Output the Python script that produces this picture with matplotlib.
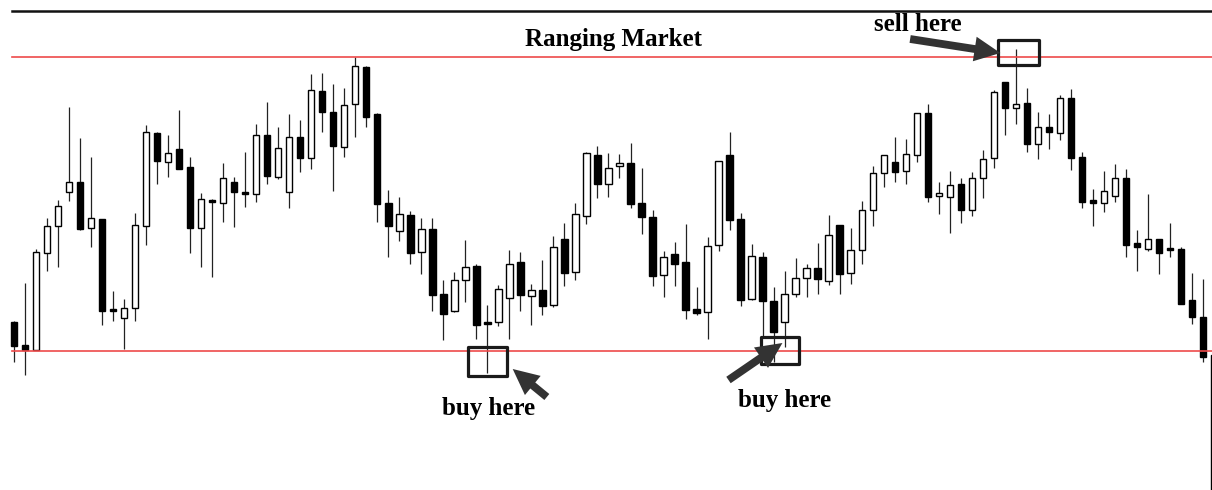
import matplotlib
matplotlib.use("Agg")
import matplotlib.pyplot as plt
from matplotlib.patches import Rectangle, FancyArrowPatch

# --- candle data (price in points) ---
opens = [178, 155, 150, 247, 274, 308, 318, 272, 281, 191,
         182, 192, 274, 367, 338, 351, 333, 272, 300, 297,
         318, 307, 306, 365, 323, 308, 363, 342, 409, 388,
         353, 396, 433, 386, 297, 269, 285, 248, 271, 206,
         189, 220, 234, 178, 178, 202, 238, 204, 210, 195,
         261, 228, 284, 345, 316, 334, 337, 297, 283, 225,
         246, 238, 191, 188, 255, 345, 281, 201, 243, 199,
         178, 206, 222, 232, 219, 275, 227, 250, 290, 327,
         338, 329, 345, 387, 304, 303, 316, 290, 322, 342,
         418, 392, 397, 356, 373, 367, 402, 343, 300, 297,
         304, 322, 257, 251, 261, 252, 251, 200, 183, 145]
highs = [179, 217, 251, 282, 300, 393, 362, 343, 281, 209,
         201, 287, 375, 368, 365, 390, 343, 307, 301, 337,
         323, 348, 376, 398, 373, 386, 380, 426, 427, 416,
         412, 443, 434, 387, 310, 303, 289, 282, 282, 220,
         228, 260, 236, 195, 215, 250, 248, 216, 240, 264,
         277, 297, 348, 354, 347, 346, 357, 332, 290, 249,
         258, 276, 213, 263, 339, 368, 287, 256, 248, 213,
         229, 242, 236, 257, 285, 275, 272, 299, 334, 345,
         363, 361, 387, 396, 318, 329, 322, 328, 350, 410,
         418, 451, 412, 388, 386, 405, 411, 348, 311, 329,
         336, 331, 270, 306, 261, 277, 253, 227, 221, 145]
lows = [138, 125, 150, 229, 233, 299, 270, 253, 175, 179,
        151, 179, 255, 316, 323, 331, 247, 233, 223, 278,
        273, 293, 298, 316, 321, 292, 328, 331, 368, 309,
        343, 363, 373, 278, 243, 259, 236, 226, 189, 160,
        188, 198, 161, 127, 174, 161, 189, 175, 185, 193,
        214, 220, 276, 302, 303, 322, 292, 266, 214, 203,
        214, 181, 185, 161, 249, 270, 194, 200, 164, 138,
        153, 203, 203, 206, 215, 206, 216, 236, 274, 313,
        318, 316, 338, 298, 286, 267, 277, 284, 302, 332,
        365, 376, 348, 341, 351, 360, 330, 292, 274, 288,
        298, 243, 229, 249, 226, 243, 196, 176, 138, 0]
closes = [154, 150, 248, 274, 294, 318, 271, 282, 189, 189,
          192, 275, 368, 339, 347, 331, 272, 301, 298, 322,
          308, 306, 365, 324, 352, 363, 342, 410, 388, 354,
          395, 434, 383, 296, 274, 286, 247, 271, 205, 186,
          220, 233, 175, 176, 211, 236, 205, 210, 194, 253,
          227, 286, 347, 316, 332, 337, 296, 283, 224, 243,
          236, 190, 187, 254, 339, 280, 200, 244, 199, 168,
          206, 222, 232, 221, 265, 226, 250, 290, 327, 345,
          328, 346, 387, 303, 307, 315, 290, 322, 341, 408,
          392, 396, 356, 373, 368, 402, 342, 298, 297, 309,
          322, 255, 253, 261, 247, 250, 196, 183, 143, 0]

support = 149
resistance = 443

fig = plt.figure(figsize=(12.12, 4.9), dpi=100)
ax = fig.add_axes([0, 0, 1, 1])
ax.set_xlim(-1.272, 108.82)
ax.set_ylim(10, 500)
ax.axis("off")

# --- candles ---
for i in range(len(opens)):
    o, h, l, c = opens[i], highs[i], lows[i], closes[i]
    ax.vlines(i, l, h, color="#222222", lw=0.9, zorder=2)
    bottom = min(o, c)
    height = max(abs(c - o), 1.5)
    face = "white" if c > o else "black"
    ax.bar(i, height, bottom=bottom, width=0.58, color=face,
           edgecolor="black", linewidth=1.0, zorder=3)

# --- range lines ---
ax.axhline(resistance, xmin=12 / 1212, color="#ee4a4a", lw=1.2, zorder=4)
ax.axhline(support, xmin=12 / 1212, color="#ee4a4a", lw=1.2, zorder=4)
ax.axhline(489, xmin=12 / 1212, color="#111111", lw=1.8, zorder=4)

serif = ["Liberation Serif", "DejaVu Serif"]
ax.text(54.5, 460, "Ranging Market", ha="center", va="center",
        fontsize=18, fontweight="bold", family=serif)

# --- boxes around entry points ---
def box(xc, half_w, y0, y1):
    ax.add_patch(Rectangle((xc - half_w, y0), 2 * half_w, y1 - y0, fill=False,
                           edgecolor="#1a1a1a", lw=2.3, joinstyle="round", zorder=5))

box(43.0, 1.8, 124, 153)
box(69.6, 1.75, 136, 163)
box(91.25, 1.85, 435, 460)

# --- arrows ---
def arrow(tail, tip):
    ax.add_patch(FancyArrowPatch(tail, tip,
                                 arrowstyle="simple,head_length=1.1,head_width=1.05,tail_width=0.33",
                                 mutation_scale=17, color="#333333", lw=0,
                                 shrinkA=0, shrinkB=0, zorder=6))

arrow((48.4, 103), (45.3, 131))
arrow((64.9, 120), (69.8, 157))
arrow((81.4, 461), (89.6, 447))

ax.text(43.1, 92, "buy here", ha="center", va="center",
        fontsize=18, fontweight="bold", family=serif)
ax.text(70.0, 100, "buy here", ha="center", va="center",
        fontsize=18, fontweight="bold", family=serif)
ax.text(82.1, 475, "sell here", ha="center", va="center",
        fontsize=18, fontweight="bold", family=serif)

fig.savefig("out.png", dpi=100)
